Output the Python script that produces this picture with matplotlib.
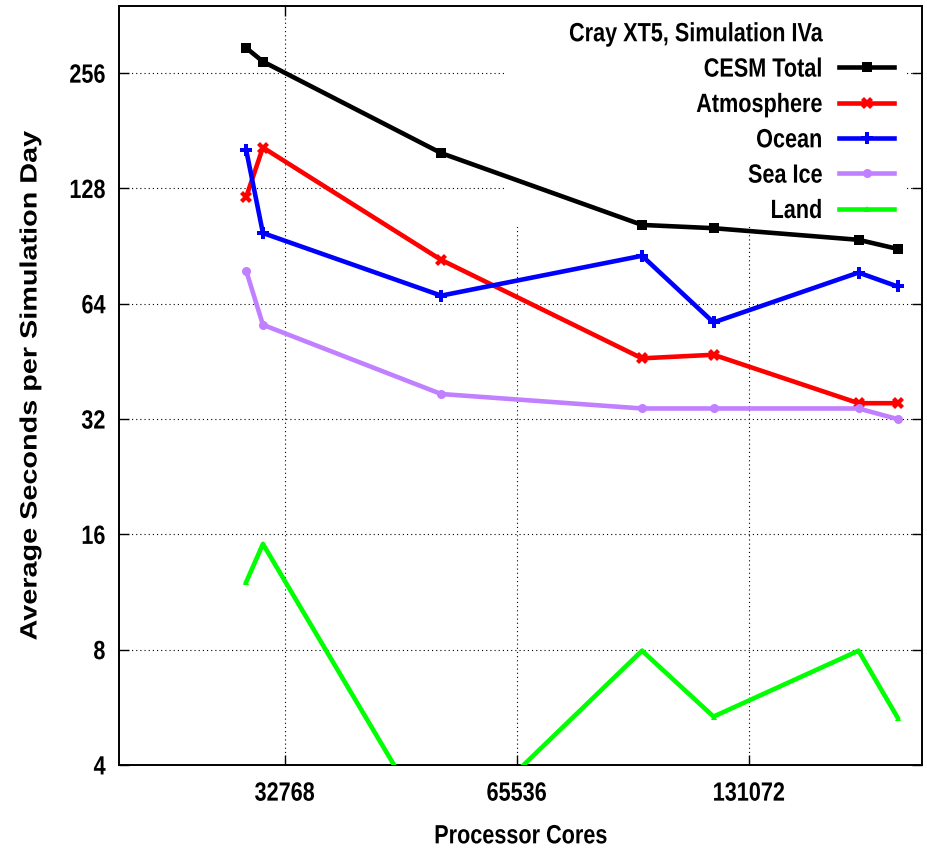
import matplotlib
matplotlib.use("Agg")
import matplotlib.pyplot as plt
from matplotlib.lines import Line2D
from matplotlib.patches import Rectangle
from matplotlib.patheffects import AbstractPathEffect
from matplotlib.transforms import Affine2D
from matplotlib.ticker import FixedLocator, FixedFormatter, NullLocator

plt.rcParams['lines.scale_dashes'] = False

# Processor core counts for each run
cores = [29200, 30700, 52300, 95300, 118000, 182000, 204500]

# Average seconds per simulated day, per component
cesm_total = [298.0, 274.5, 158.3, 102.8, 100.8, 94.0, 89.0]
atmosphere = [121.5, 163.7, 83.3, 46.1, 47.1, 35.2, 35.2]
ocean = [161.5, 97.9, 67.2, 85.4, 57.2, 77.2, 71.0]
sea_ice = [78.1, 56.4, 37.2, 34.1, 34.1, 34.1, 32.0]
land = [12.0, 15.1, 2.48, 7.95, 5.35, 7.95, 5.32]

series_names = ["CESM Total", "Atmosphere", "Ocean", "Sea Ice", "Land"]
legend_title = "Cray XT5, Simulation IVa"

x_ticks = [32768, 65536, 131072]
x_tick_labels = ["32768", "65536", "131072"]
y_ticks = [4, 8, 16, 32, 64, 128, 256]
y_tick_labels = ["4", "8", "16", "32", "64", "128", "256"]

FONT = ['Liberation Sans', 'DejaVu Sans']


class Condensed(AbstractPathEffect):
    """Scale glyph outlines horizontally about a pivot (left/center/right)."""

    def __init__(self, sx, anchor='center'):
        super().__init__()
        self.sx = sx
        self.anchor = anchor

    def draw_path(self, renderer, gc, tpath, affine, rgbFace=None):
        ext = tpath.get_extents()
        if self.anchor == 'left':
            px = ext.x0
        elif self.anchor == 'right':
            px = ext.x1
        else:
            px = 0.5 * (ext.x0 + ext.x1)
        squeeze = Affine2D().translate(-px, 0).scale(self.sx, 1).translate(px, 0)
        renderer.draw_path(gc, tpath, squeeze + affine, rgbFace)


NARROW = 0.82
TXT = 19

fig = plt.figure(figsize=(9.27, 8.51), dpi=100)
ax = fig.add_axes([0.1289, 0.1011, 0.8657, 0.8922])

ax.set_xscale('log', base=2)
ax.set_yscale('log', base=2)
ax.set_xlim(20000, 220000)
ax.set_ylim(4, 384)

styles = [
    dict(color='black', marker='s', ms=6.5),
    dict(color='#ff0000', marker='X', ms=9),
    dict(color='#0000ff', marker='P', ms=8),
    dict(color='#c080ff', marker='o', ms=6.5),
    dict(color='#00ff00', marker='^', ms=5),
]
series = [cesm_total, atmosphere, ocean, sea_ice, land]

handles = [Line2D([], [], linestyle='none', marker=None, label=legend_title)]
for name, vals, st in zip(series_names, series, styles):
    ln, = ax.plot(cores, vals, lw=3.3, zorder=3, label=name,
                  markeredgewidth=0, **st)
    handles.append(ln)

# grid and ticks
ax.set_axisbelow(True)
ax.xaxis.set_major_locator(FixedLocator(x_ticks))
ax.xaxis.set_major_formatter(FixedFormatter(x_tick_labels))
ax.xaxis.set_minor_locator(NullLocator())
ax.yaxis.set_major_locator(FixedLocator(y_ticks))
ax.yaxis.set_major_formatter(FixedFormatter(y_tick_labels))
ax.yaxis.set_minor_locator(NullLocator())
ax.grid(True, which='major', color='black', lw=0.8, linestyle=(0, (0.8, 2.2)))

# opaque key area hides the grid beneath it
ax.add_patch(Rectangle((0.4816, 0.7086), 0.4997, 0.2914, transform=ax.transAxes,
                       facecolor='white', edgecolor='none', zorder=1))

ax.tick_params(which='major', direction='in', length=7, width=1,
               top=True, right=True)
ax.tick_params(axis='x', pad=12)
ax.tick_params(axis='y', pad=10)
for lab in ax.get_xticklabels():
    lab.set_family(FONT)
    lab.set_fontweight('bold')
    lab.set_fontsize(TXT)
    lab.set_path_effects([Condensed(NARROW, 'center')])
for lab in ax.get_yticklabels():
    lab.set_family(FONT)
    lab.set_fontweight('bold')
    lab.set_fontsize(TXT)
    lab.set_path_effects([Condensed(NARROW, 'right')])

for sp in ax.spines.values():
    sp.set_linewidth(1.4)

ax.set_xlabel("Processor Cores", family=FONT, fontweight='bold', fontsize=TXT,
              va='center', path_effects=[Condensed(NARROW, 'center')])
ax.xaxis.set_label_coords(0.5, -0.094)
ax.set_ylabel("Average Seconds per Simulation Day", family=FONT,
              fontweight='bold', fontsize=17, va='center',
              path_effects=[Condensed(1.22, 'center')])
ax.yaxis.set_label_coords(-0.1115, 0.5)

leg = ax.legend(handles=handles, loc='upper right', markerfirst=False,
                bbox_to_anchor=(0.9655, 0.9782), borderpad=0, borderaxespad=0,
                frameon=False, numpoints=1, handlelength=2.1,
                handletextpad=0.62, labelspacing=0.43,
                prop=dict(family=FONT, weight='bold', size=TXT))
leg.set_zorder(4)
for t in leg.get_texts():
    t.set_path_effects([Condensed(NARROW, 'right')])

fig.savefig("out.png", dpi=100)
